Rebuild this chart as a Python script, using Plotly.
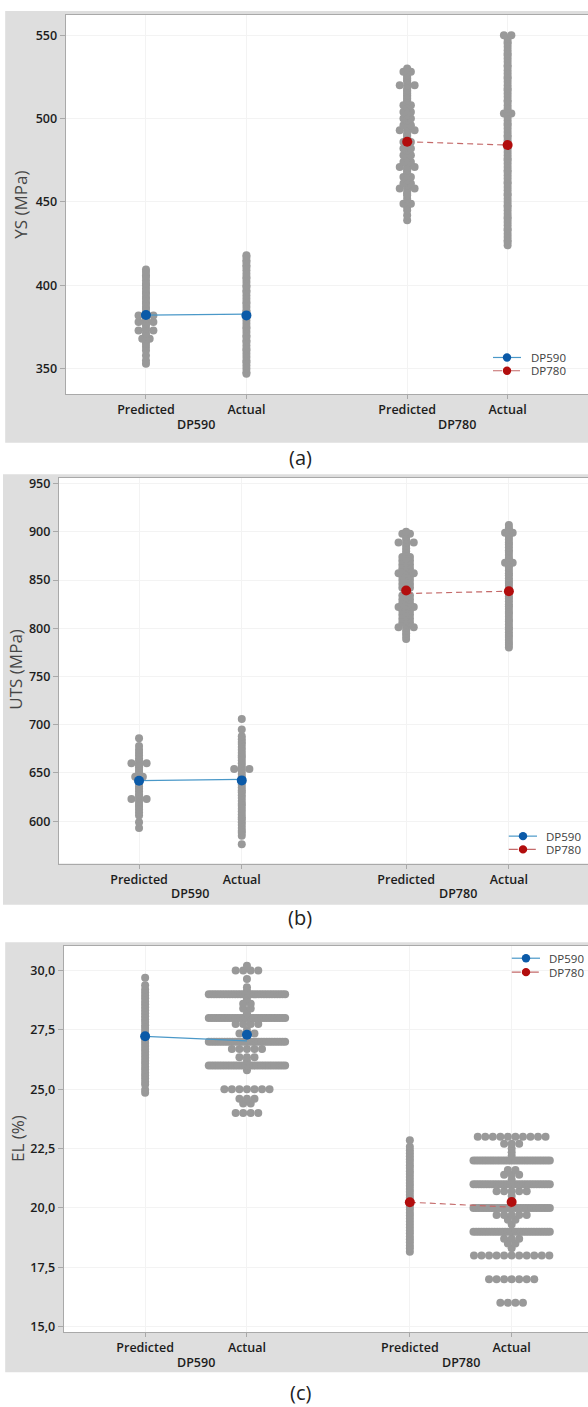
import plotly.graph_objects as go

# ---------------- data ----------------
categories = ["Predicted", "Actual", "Predicted", "Actual"]
groups = ["DP590", "DP780"]

# (a) Yield strength, MPa
ys_dp590_pred = [353, 355, 358, 361, 363, 365, 367, 368, 368, 370, 371, 373, 373, 373, 374, 376, 377,
                 378, 378, 378, 379, 380, 381, 382, 382, 382, 383, 384, 386, 387, 389, 390, 392, 393,
                 395, 396, 398, 400, 401, 403, 405, 406, 408, 409.5]
ys_dp590_act = [347, 348, 350, 352, 354, 355, 357, 359, 361, 362, 364, 366, 367, 369, 370, 372, 374,
                375, 377, 379, 381, 382, 384, 385, 387, 389, 390, 392, 394, 396, 397, 399, 400, 402,
                404, 405, 407, 409, 411, 412, 414, 415, 417, 418]
ys_dp780_pred = [439, 442, 445, 447, 449, 449, 452, 454, 455, 456, 458, 458, 458, 460, 461, 461, 463,
                 464, 465, 465, 467, 468, 469, 470, 471, 471, 471, 473, 474, 474, 476, 477, 478, 478,
                 480, 481, 482, 482, 484, 485, 486, 486, 488, 489, 490, 491, 493, 493, 493, 495, 496,
                 496, 498, 499, 500, 500, 502, 503, 504, 504, 506, 507, 508, 508, 510, 511, 512, 513,
                 514, 515, 516, 517, 518, 520, 520, 520, 522, 523, 524, 525, 526, 528, 528, 530]
ys_dp780_act = [424, 426, 427, 429, 431, 433, 434, 436, 438, 440, 441, 443, 445, 447, 448, 450, 452,
                454, 455, 457, 459, 461, 462, 464, 466, 468, 469, 471, 473, 475, 476, 478, 480, 482,
                483, 485, 487, 489, 490, 492, 494, 496, 497, 499, 501, 503, 503, 504, 506, 508, 510,
                511, 513, 515, 517, 518, 520, 522, 524, 525, 527, 529, 531, 532, 534, 536, 538, 539,
                541, 543, 545, 546, 548, 550, 550]
ys_mean_dp590 = [382.2, 382.0]
ys_mean_dp780 = [486.1, 484.1]
ys_link_dp590 = [382.2, 382.8]
ys_link_dp780 = [486.1, 484.1]

# (b) Ultimate tensile strength, MPa
uts_dp590_pred = [593, 599, 606, 609, 612, 615, 617, 620, 623, 623, 623, 626, 628, 631, 634, 636, 639,
                  641, 643, 645, 646, 646, 648, 651, 653, 656, 658, 660, 660, 660, 663, 665, 668, 671,
                  674, 678, 686]
uts_dp590_act = [576, 585, 588, 590, 593, 596, 599, 602, 604, 607, 610, 613, 616, 618, 621, 624, 627,
                 630, 632, 635, 638, 641, 644, 646, 649, 652, 654, 654, 654, 657, 660, 663, 666, 668,
                 671, 674, 677, 680, 682, 685, 688, 695, 706]
uts_dp780_pred = [789, 792, 795, 798, 801, 801, 801, 804, 806, 806, 808, 810, 810, 812, 814, 814, 816,
                  818, 818, 820, 822, 822, 822, 824, 826, 826, 828, 830, 830, 832, 834, 834, 836, 838,
                  840, 842, 842, 844, 846, 846, 848, 850, 850, 852, 854, 854, 857, 857, 857, 860, 862,
                  862, 864, 866, 866, 868, 870, 870, 872, 874, 874, 877, 880, 883, 886, 889, 889, 889,
                  892, 895, 898, 898, 900]
uts_dp780_act = [780, 783, 785, 788, 791, 793, 796, 799, 801, 804, 807, 809, 812, 815, 817, 820, 823,
                 825, 828, 831, 833, 836, 839, 841, 844, 847, 849, 852, 855, 857, 860, 863, 865, 868,
                 868, 871, 873, 876, 879, 881, 884, 887, 889, 892, 895, 897, 899, 899, 902, 904, 907]
uts_mean_dp590 = [642.0, 642.3]
uts_mean_dp780 = [839.2, 838.5]
uts_link_dp590 = [642.0, 643.4]
uts_link_dp780 = [836.0, 838.5]

# (c) Elongation, %
el_dp590_pred = [24.85, 24.98, 25.2, 25.32, 25.45, 25.58, 25.7, 25.83, 25.95, 26.08, 26.2, 26.33,
                 26.45, 26.58, 26.7, 26.82, 26.95, 27.08, 27.2, 27.33, 27.45, 27.58, 27.7, 27.83,
                 27.95, 28.08, 28.2, 28.33, 28.45, 28.58, 28.7, 28.83, 28.95, 29.08, 29.2, 29.38, 29.7]
el_dp590_act_vals = [24.0, 24.4, 24.6, 25.0, 25.8, 26.0, 26.2, 26.35, 26.7, 27.0, 27.2, 27.35, 27.5,
                     27.75, 28.0, 28.2, 28.4, 28.6, 28.8, 29.0, 29.15, 29.3, 29.65, 30.0, 30.2]
el_dp590_act_counts = [4, 2, 3, 7, 1, 30, 1, 3, 5, 30, 1, 3, 1, 4, 30, 1, 2, 2, 1, 30, 1, 1, 1, 4, 1]
el_dp780_pred = [18.15, 18.3, 18.42, 18.55, 18.68, 18.8, 18.93, 19.05, 19.18, 19.3, 19.43, 19.55,
                 19.68, 19.8, 19.93, 20.05, 20.18, 20.3, 20.43, 20.55, 20.68, 20.8, 20.93, 21.05,
                 21.18, 21.3, 21.43, 21.55, 21.68, 21.8, 21.93, 22.05, 22.18, 22.3, 22.43, 22.58, 22.85]
el_dp780_act_vals = [16.0, 17.0, 18.0, 18.3, 18.5, 18.7, 19.0, 19.3, 19.5, 19.7, 20.0, 20.3, 20.5,
                     20.7, 21.0, 21.2, 21.4, 21.6, 22.0, 22.2, 22.35, 22.5, 22.7, 23.0]
el_dp780_act_counts = [4, 7, 11, 1, 2, 3, 30, 1, 2, 5, 30, 1, 1, 5, 30, 1, 3, 2, 30, 1, 1, 1, 3, 10]
el_mean_dp590 = [27.23, 27.3]
el_mean_dp780 = [20.24, 20.25]
el_link_dp590 = [27.23, 27.04]
el_link_dp780 = [20.24, 20.03]

y_titles = ["YS (MPa)", "UTS (MPa)", "EL (%)"]
panel_labels = ["(a)", "(b)", "(c)"]

# ---------------- layout constants ----------------
W, H = 588, 1407
cat_pos = [0, 1, 2.6, 3.6]
GRAY = "#999999"
BLUE = "#0b5aa8"
BLUE_LINE = "#4a98c8"
RED = "#b20d0d"
RED_LINE = "#c46a6a"
FONT = "Open Sans"


def expand(vals, counts):
    out = []
    for v, c in zip(vals, counts):
        out.extend([v] * c)
    return out


def swarm(values, center, step=0.074, max_span=0.75):
    order, counts = [], {}
    for v in values:
        k = round(float(v), 4)
        if k not in counts:
            counts[k] = 0
            order.append(k)
        counts[k] += 1
    xs, ys = [], []
    for k in order:
        n = counts[k]
        sp = step if n <= 1 else min(step, max_span / (n - 1))
        for i in range(n):
            xs.append(center + (i - (n - 1) / 2) * sp)
            ys.append(k)
    return xs, ys


panels = [
    dict(cols=[ys_dp590_pred, ys_dp590_act, ys_dp780_pred, ys_dp780_act],
         means=[ys_mean_dp590, ys_mean_dp780], links=[ys_link_dp590, ys_link_dp780],
         yrange=[334.7, 562.1], ticks=[350, 400, 450, 500, 550], fmt="d",
         px=dict(left=65.6, top=12, bottom=393), xrange=[-0.8, 4.4],
         bg=(5.2, 8, 441.7), title=(20.6, 203), label_y=456.7,
         legend=dict(x0=493, x1=521, xm=507, xt=528.7, y=[356, 369.3])),
    dict(cols=[uts_dp590_pred, uts_dp590_act, uts_dp780_pred, uts_dp780_act],
         means=[uts_mean_dp590, uts_mean_dp780], links=[uts_link_dp590, uts_link_dp780],
         yrange=[556.0, 956.2], ticks=[600, 650, 700, 750, 800, 850, 900, 950], fmt="d",
         px=dict(left=58.9, top=476.7, bottom=864.3), xrange=[-0.78, 4.37],
         bg=(3.0, 473.3, 905.7), title=(15.5, 670), label_y=918.3,
         legend=dict(x0=508.8, x1=537, xm=523, xt=544.4, y=[836.7, 850])),
    dict(cols=[el_dp590_pred, expand(el_dp590_act_vals, el_dp590_act_counts),
               el_dp780_pred, expand(el_dp780_act_vals, el_dp780_act_counts)],
         means=[el_mean_dp590, el_mean_dp780], links=[el_link_dp590, el_link_dp780],
         yrange=[14.76, 31.05], ticks=[15, 17.5, 20, 22.5, 25, 27.5, 30], fmt=".1f",
         px=dict(left=63.7, top=946.7, bottom=1335), xrange=[-0.8, 4.35],
         bg=(5.2, 943.3, 1375), title=(16.9, 1140), label_y=1395,
         legend=dict(x0=511.8, x1=540, xm=526, xt=546.7, y=[959.3, 973.3])),
]


def px_x(v):
    return v / W


def px_y(v):
    return 1 - v / H


fig = go.Figure()
shapes, annotations = [], []

for p_i, p in enumerate(panels):
    sfx = "" if p_i == 0 else str(p_i + 1)
    xa, ya = "x" + sfx, "y" + sfx
    # gray panel background and white plot area
    bx, btop, bbot = p["bg"]
    shapes.append(dict(type="rect", xref="paper", yref="paper", layer="below",
                       x0=px_x(bx), x1=1.0, y0=px_y(bbot), y1=px_y(btop),
                       fillcolor="#dedede", line=dict(width=0)))
    shapes.append(dict(type="rect", xref="paper", yref="paper", layer="below",
                       x0=px_x(p["px"]["left"]), x1=1.0, y0=px_y(p["px"]["bottom"]),
                       y1=px_y(p["px"]["top"]), fillcolor="white", line=dict(width=0)))

    # individual values
    for c_i, col in enumerate(p["cols"]):
        xs, ys = swarm(col, cat_pos[c_i])
        fig.add_trace(go.Scatter(x=xs, y=ys, mode="markers", xaxis=xa, yaxis=ya,
                                 marker=dict(color=GRAY, size=8, line=dict(width=0)),
                                 showlegend=False, hoverinfo="y"))
    # connect lines and means
    styles = [(BLUE, BLUE_LINE, "solid"), (RED, RED_LINE, "6px,4px")]
    for g_i in range(2):
        mc, lc, dash = styles[g_i]
        gx = cat_pos[2 * g_i: 2 * g_i + 2]
        fig.add_trace(go.Scatter(x=gx, y=p["links"][g_i], mode="lines", xaxis=xa, yaxis=ya,
                                 line=dict(color=lc, width=1.2, dash=dash),
                                 showlegend=False, hoverinfo="skip"))
    for g_i in range(2):
        mc, lc, dash = styles[g_i]
        gx = cat_pos[2 * g_i: 2 * g_i + 2]
        fig.add_trace(go.Scatter(x=gx, y=p["means"][g_i], mode="markers", xaxis=xa, yaxis=ya,
                                 marker=dict(color=mc, size=10, line=dict(width=0)),
                                 name=groups[g_i], showlegend=False))

    dom_x = [px_x(p["px"]["left"]), 1.0]
    dom_y = [px_y(p["px"]["bottom"]), px_y(p["px"]["top"])]
    axis_common = dict(showline=True, linecolor="#a9a9a9", linewidth=1,
                       showgrid=True, gridcolor="#f3f3f3", gridwidth=1, zeroline=False,
                       ticks="outside", tickcolor="#a9a9a9",
                       tickfont=dict(family=FONT, size=12.5, color="#1c1c1c", weight=600))
    fig.update_layout(**{
        ("xaxis" + sfx): dict(domain=dom_x, range=p["xrange"], anchor=ya,
                               tickvals=cat_pos, ticktext=categories, ticklen=4,
                               mirror=True, fixedrange=True, **axis_common),
        ("yaxis" + sfx): dict(domain=dom_y, range=p["yrange"], anchor=xa,
                               tickvals=p["ticks"], tickformat=p["fmt"], ticklen=5,
                               fixedrange=True, **axis_common),
    })

    # group labels under the category labels
    for g_i in range(2):
        annotations.append(dict(x=(cat_pos[2 * g_i] + cat_pos[2 * g_i + 1]) / 2, y=0,
                                xref=xa, yref=ya + " domain", yanchor="middle", yshift=-30,
                                showarrow=False, text=groups[g_i],
                                font=dict(family=FONT, size=12.5, color="#1c1c1c", weight=600)))
    # y title
    tx, ty = p["title"]
    annotations.append(dict(x=px_x(tx), y=px_y(ty), xref="paper", yref="paper",
                            textangle=-90, showarrow=False, text=y_titles[p_i],
                            xanchor="center", yanchor="middle",
                            font=dict(family=FONT, size=17, color="#454545")))
    # panel label
    annotations.append(dict(x=px_x(300), y=px_y(p["label_y"]), xref="paper", yref="paper",
                            showarrow=False, text=panel_labels[p_i],
                            xanchor="center", yanchor="middle",
                            font=dict(family=FONT, size=20, color="#222222")))
    # legend (drawn as key)
    lg = p["legend"]
    for g_i in range(2):
        mc, lc, dash = styles[g_i]
        yy = lg["y"][g_i]
        shapes.append(dict(type="line", xref="paper", yref="paper",
                           x0=px_x(lg["x0"]), x1=px_x(lg["x1"]), y0=px_y(yy), y1=px_y(yy),
                           line=dict(color=lc, width=1.2, dash="dash" if g_i else "solid")))
        r = 4.2
        shapes.append(dict(type="circle", xref="paper", yref="paper",
                           x0=px_x(lg["xm"] - r), x1=px_x(lg["xm"] + r),
                           y0=px_y(yy + r), y1=px_y(yy - r),
                           fillcolor=mc, line=dict(width=0)))
        annotations.append(dict(x=px_x(lg["xt"]), y=px_y(yy), xref="paper", yref="paper",
                                xanchor="left", yanchor="middle", showarrow=False,
                                text=groups[g_i],
                                font=dict(family=FONT, size=11.5, color="#404040")))

fig.update_layout(
    width=W, height=H, margin=dict(l=0, r=0, t=0, b=0),
    paper_bgcolor="white", plot_bgcolor="rgba(0,0,0,0)",
    separators=",.", showlegend=False,
    shapes=shapes, annotations=annotations,
    font=dict(family=FONT),
)

fig.write_html("out.html", config={"displayModeBar": False},
               post_script="document.body.style.margin='0px';document.body.style.overflow='hidden';")
